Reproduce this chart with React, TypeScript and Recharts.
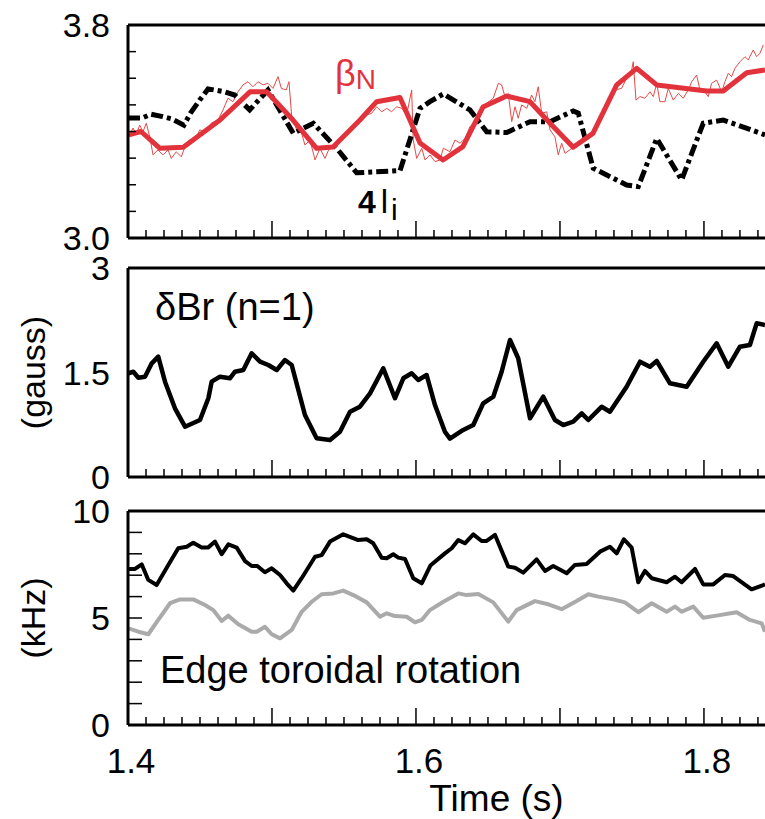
import React from "react";
import {
	LineChart,
	Line,
	XAxis,
	YAxis,
	ReferenceLine,
	ReferenceDot,
} from "recharts";

const FONT = '"Liberation Sans", Arial, Helvetica, sans-serif';
const RED = "#e2333d";
const RED_THIN = "#e44a48";
const GREY = "#aaaaaa";

// shared time axis (s)
const X_MIN = 1.4;
const X_MAX = 1.8424;
const X_MAJOR = [1.4, 1.5, 1.6, 1.7, 1.8];
const X_LABELS = [1.4, 1.6, 1.8];
const X_MINOR_STEP = 0.0125;

const xTicks: number[] = [];
for (let i = 0; X_MIN + i * X_MINOR_STEP <= X_MAX + 1e-9; i++) {
	xTicks.push(+(X_MIN + i * X_MINOR_STEP).toFixed(4));
}

// panel 1: beta_N and 4 l_i
const Y1_TICKS = [3.0, 3.1, 3.2, 3.3, 3.4, 3.5, 3.6, 3.7, 3.8];
const Y1_LABELS = [3.0, 3.8];

const BETA_RAW: [number, number][] = [
	[1.4012, 3.387], [1.4035, 3.413], [1.4058, 3.387], [1.4081, 3.424], [1.4104, 3.399],
	[1.4127, 3.431], [1.4151, 3.38], [1.4174, 3.312], [1.4208, 3.331], [1.4243, 3.312],
	[1.4278, 3.331], [1.4301, 3.299], [1.4335, 3.324], [1.437, 3.305], [1.4405, 3.356],
	[1.4428, 3.368], [1.4463, 3.362], [1.4498, 3.406], [1.4533, 3.399], [1.4578, 3.431],
	[1.4625, 3.443], [1.466, 3.481], [1.4694, 3.525], [1.4729, 3.512], [1.4764, 3.549],
	[1.4799, 3.575], [1.4833, 3.587], [1.4868, 3.568], [1.4903, 3.587], [1.4938, 3.575],
	[1.4972, 3.581], [1.5007, 3.562], [1.5042, 3.606], [1.5065, 3.562], [1.5099, 3.556],
	[1.5118, 3.587], [1.5137, 3.456], [1.5172, 3.406], [1.5206, 3.393], [1.5229, 3.349],
	[1.5264, 3.368], [1.5299, 3.293], [1.5333, 3.337], [1.5368, 3.299], [1.5403, 3.343],
	[1.5438, 3.349], [1.5472, 3.368], [1.5519, 3.399], [1.5553, 3.406], [1.5588, 3.437],
	[1.5623, 3.443], [1.5658, 3.462], [1.5692, 3.468], [1.5727, 3.493], [1.5762, 3.474],
	[1.5797, 3.487], [1.5831, 3.474], [1.5866, 3.493], [1.5901, 3.487], [1.5935, 3.462],
	[1.597, 3.556], [1.5981, 3.368], [1.6005, 3.299], [1.604, 3.337], [1.6063, 3.293],
	[1.6097, 3.312], [1.6132, 3.287], [1.6167, 3.293], [1.619, 3.337], [1.6236, 3.324],
	[1.6271, 3.368], [1.6306, 3.356], [1.634, 3.374], [1.6375, 3.418], [1.641, 3.437],
	[1.6444, 3.468], [1.6491, 3.506], [1.6537, 3.525], [1.6572, 3.581], [1.6595, 3.575],
	[1.6618, 3.531], [1.6641, 3.543], [1.6665, 3.437], [1.6688, 3.493], [1.671, 3.45],
	[1.6734, 3.5], [1.6769, 3.487], [1.6803, 3.537], [1.6826, 3.512], [1.6849, 3.568],
	[1.6873, 3.468], [1.6908, 3.474], [1.6931, 3.406], [1.6965, 3.38], [1.6988, 3.312],
	[1.7012, 3.356], [1.7035, 3.318], [1.7069, 3.331], [1.7104, 3.349], [1.7139, 3.356],
	[1.7185, 3.374], [1.7231, 3.387], [1.7266, 3.424], [1.7301, 3.46], [1.7347, 3.518],
	[1.7382, 3.556], [1.7428, 3.562], [1.7463, 3.6], [1.7498, 3.631], [1.7509, 3.662],
	[1.7528, 3.518], [1.7556, 3.531], [1.759, 3.525], [1.7625, 3.549], [1.7648, 3.531],
	[1.7672, 3.581], [1.7694, 3.512], [1.7729, 3.512], [1.7752, 3.562], [1.7787, 3.518],
	[1.7822, 3.543], [1.7856, 3.525], [1.7891, 3.556], [1.7915, 3.587], [1.7949, 3.612],
	[1.7972, 3.556], [1.8007, 3.549], [1.803, 3.531], [1.8053, 3.581], [1.8088, 3.593],
	[1.8123, 3.549], [1.8146, 3.587], [1.8169, 3.619], [1.8192, 3.606], [1.8215, 3.637],
	[1.825, 3.662], [1.8285, 3.681], [1.8308, 3.669], [1.8342, 3.706], [1.8366, 3.681],
	[1.8389, 3.694], [1.8412, 3.725],
];

const BETA_SMOOTH: [number, number][] = [
	[1.4005, 3.387], [1.409, 3.4], [1.4222, 3.337], [1.4384, 3.341], [1.4639, 3.443],
	[1.4847, 3.549], [1.4963, 3.549], [1.5146, 3.443], [1.531, 3.337], [1.5424, 3.342],
	[1.5611, 3.443], [1.5727, 3.512], [1.5889, 3.528], [1.6028, 3.357], [1.6188, 3.293],
	[1.6326, 3.343], [1.6465, 3.492], [1.663, 3.533], [1.6792, 3.512], [1.6931, 3.431],
	[1.7092, 3.341], [1.7229, 3.393], [1.7394, 3.575], [1.7533, 3.637], [1.7672, 3.575],
	[1.8019, 3.552], [1.8134, 3.552], [1.8297, 3.621], [1.8424, 3.631],
];

const LI4: [number, number][] = [
	[1.4, 3.451], [1.41, 3.451], [1.416, 3.465], [1.424, 3.456], [1.4305, 3.447],
	[1.4388, 3.424], [1.4434, 3.469], [1.4498, 3.518], [1.4556, 3.56], [1.4672, 3.549],
	[1.4741, 3.537], [1.4845, 3.481], [1.4972, 3.556], [1.5148, 3.393], [1.5287, 3.431],
	[1.5449, 3.337], [1.5588, 3.245], [1.5889, 3.253], [1.6028, 3.487], [1.6097, 3.512],
	[1.619, 3.541], [1.6375, 3.481], [1.6491, 3.399], [1.663, 3.396], [1.6792, 3.437],
	[1.6931, 3.437], [1.7092, 3.477], [1.7127, 3.469], [1.7231, 3.262], [1.7463, 3.199],
	[1.7544, 3.193], [1.7672, 3.374], [1.7845, 3.218], [1.7995, 3.431], [1.8134, 3.443],
	[1.8319, 3.408], [1.8424, 3.387],
];

// panel 2: delta Br (n=1), gauss
const Y2_TICKS = [0, 1.5, 3];
const Y2_LABELS = [0, 1.5, 3];

const DBR: [number, number][] = [
	[1.4002, 1.489], [1.4037, 1.511], [1.4072, 1.425], [1.4118, 1.44], [1.4165, 1.632],
	[1.421, 1.727], [1.4257, 1.368], [1.4326, 0.986], [1.4396, 0.722], [1.45, 0.818],
	[1.4558, 1.13], [1.4581, 1.368], [1.4639, 1.44], [1.4708, 1.417], [1.4743, 1.511],
	[1.4801, 1.536], [1.4859, 1.776], [1.4917, 1.655], [1.4974, 1.608], [1.5033, 1.536],
	[1.509, 1.679], [1.5137, 1.608], [1.5229, 0.89], [1.531, 0.556], [1.5403, 0.531],
	[1.5472, 0.65], [1.5542, 0.937], [1.5611, 1.009], [1.5681, 1.201], [1.5773, 1.56],
	[1.5854, 1.13], [1.5912, 1.417], [1.597, 1.489], [1.6016, 1.392], [1.6074, 1.464],
	[1.6132, 1.033], [1.6201, 0.65], [1.6236, 0.55], [1.6328, 0.675], [1.6398, 0.746],
	[1.6467, 1.058], [1.6537, 1.153], [1.6595, 1.511], [1.6653, 1.967], [1.671, 1.704],
	[1.6792, 0.843], [1.6884, 1.153], [1.6965, 0.818], [1.7023, 0.746], [1.7092, 0.794],
	[1.7151, 0.914], [1.7197, 0.818], [1.729, 1.009], [1.7347, 0.937], [1.7463, 1.296],
	[1.7556, 1.655], [1.7625, 1.583], [1.7672, 1.665], [1.7764, 1.345], [1.788, 1.296],
	[1.7995, 1.655], [1.8088, 1.919], [1.8169, 1.583], [1.825, 1.87], [1.8319, 1.895],
	[1.8366, 2.206], [1.8424, 2.182],
];

// panel 3: rotation, kHz
const Y3_TICKS = [0, 1, 2, 3, 4, 5, 6, 7, 8, 9, 10];
const Y3_LABELS = [0, 5, 10];

const ROT_BLACK: [number, number][] = [
	[1.4002, 7.29], [1.4049, 7.29], [1.4095, 7.51], [1.4141, 6.78], [1.4199, 6.54],
	[1.428, 7.48], [1.4349, 8.26], [1.4408, 8.33], [1.4453, 8.52], [1.4512, 8.29],
	[1.4558, 8.3], [1.4604, 8.57], [1.4651, 7.98], [1.4697, 8.44], [1.4755, 8.29],
	[1.4813, 7.66], [1.4859, 7.43], [1.4898, 7.43], [1.4951, 7.14], [1.4998, 7.32],
	[1.5056, 7.01], [1.5102, 6.62], [1.5148, 6.28], [1.5206, 6.86], [1.5299, 7.86],
	[1.5345, 7.94], [1.5403, 8.57], [1.5495, 8.91], [1.5599, 8.64], [1.5658, 8.68],
	[1.5703, 8.49], [1.5762, 7.82], [1.5797, 7.79], [1.5842, 7.98], [1.5877, 7.82],
	[1.5924, 7.76], [1.5981, 6.86], [1.604, 6.62], [1.61, 7.45], [1.6201, 8.02],
	[1.6248, 8.26], [1.6294, 8.64], [1.634, 8.49], [1.6398, 8.91], [1.6456, 8.6],
	[1.6491, 8.6], [1.6549, 8.88], [1.6641, 7.4], [1.6688, 7.35], [1.6745, 7.12],
	[1.6838, 7.74], [1.6896, 7.2], [1.6953, 7.43], [1.7047, 7.09], [1.7104, 7.48],
	[1.7185, 7.52], [1.7278, 8.1], [1.7347, 8.33], [1.7394, 8.02], [1.7444, 8.68],
	[1.7498, 8.29], [1.7544, 6.67], [1.759, 7.2], [1.7637, 6.86], [1.7741, 6.67],
	[1.7799, 6.93], [1.7845, 6.67], [1.7938, 7.29], [1.7995, 6.57], [1.8065, 6.57],
	[1.8146, 7.01], [1.8203, 6.96], [1.8331, 6.34], [1.8424, 6.57],
];

const ROT_GREY: [number, number][] = [
	[1.4002, 4.52], [1.4072, 4.36], [1.4141, 4.24], [1.421, 4.91], [1.4292, 5.69],
	[1.4361, 5.87], [1.4453, 5.87], [1.4535, 5.61], [1.4592, 5.37], [1.4651, 4.86],
	[1.4697, 5.11], [1.4766, 4.71], [1.4859, 4.36], [1.4894, 4.36], [1.4951, 4.59],
	[1.4998, 4.24], [1.5056, 4.05], [1.5137, 4.44], [1.5206, 5.29], [1.5276, 5.76],
	[1.5345, 6.11], [1.5426, 6.15], [1.5495, 6.28], [1.5565, 6.07], [1.5658, 5.73],
	[1.575, 5.06], [1.5797, 5.22], [1.5854, 5.09], [1.5935, 5.06], [1.5993, 4.8],
	[1.604, 4.91], [1.6097, 5.37], [1.619, 5.76], [1.6294, 6.15], [1.6352, 6.07],
	[1.6433, 6.12], [1.6537, 5.73], [1.6641, 4.83], [1.6699, 5.37], [1.6826, 5.79],
	[1.6919, 5.64], [1.7012, 5.41], [1.7116, 5.79], [1.7197, 6.11], [1.7266, 6.0],
	[1.737, 5.87], [1.7451, 5.73], [1.7544, 5.27], [1.7637, 5.69], [1.7741, 5.29],
	[1.7799, 5.53], [1.7845, 5.29], [1.7926, 5.53], [1.7995, 5.01], [1.8088, 5.11],
	[1.8227, 5.27], [1.8319, 4.91], [1.8401, 4.75], [1.8424, 4.36],
];

const toRows = (pts: [number, number][]) => pts.map(([t, v]) => ({ t, v }));
const near = (list: number[], v: number) =>
	list.some((m) => Math.abs(m - v) < 1e-6);

function XTick(props: any) {
	const { x, y, payload, showLabels } = props;
	const v = payload.value as number;
	const major = near(X_MAJOR, v);
	return (
		<g>
			<line
				x1={x}
				x2={x}
				y1={y}
				y2={y - (major ? 17 : 8)}
				stroke="#000"
				strokeWidth={1.5}
			/>
			{showLabels && near(X_LABELS, v) && (
				<text
					x={x + 3}
					y={y + 48}
					textAnchor="middle"
					fontSize={35}
					fontFamily={FONT}
					fill="#000"
				>
					{v.toFixed(1)}
				</text>
			)}
		</g>
	);
}

function YTick(props: any) {
	const { x, y, payload, len, labels, digits } = props;
	const v = payload.value as number;
	return (
		<g>
			{len > 0 && (
				<line x1={x} x2={x + len} y1={y} y2={y} stroke="#000" strokeWidth={1.5} />
			)}
			{near(labels, v) && (
				<text
					x={x - 18}
					y={y}
					dy="0.36em"
					textAnchor="end"
					fontSize={34}
					fontFamily={FONT}
					fill="#000"
				>
					{v.toFixed(digits(v))}
				</text>
			)}
		</g>
	);
}

const axisLine = { stroke: "#000", strokeWidth: 3 };

const betaLabel = (p: any) => {
	const { x, y } = p.viewBox;
	return (
		<text x={x} y={y} fill={RED} fontFamily={FONT}>
			<tspan fontSize={36}>β</tspan>
			<tspan fontSize={28} dy={3}>
				N
			</tspan>
		</text>
	);
};

const liLabel = (p: any) => {
	const { x, y } = p.viewBox;
	return (
		<text x={x} y={y} fill="#000" fontFamily={FONT}>
			<tspan fontSize={32} fontWeight="bold">
				4
			</tspan>
			<tspan fontSize={33} dx={5}>
				l
			</tspan>
			<tspan fontSize={30} dx={3} dy={7}>
				i
			</tspan>
		</text>
	);
};

const plainLabel = (text: string) => (p: any) => {
	const { x, y } = p.viewBox;
	return (
		<text x={x} y={y} fill="#000" fontFamily={FONT} fontSize={38}>
			{text}
		</text>
	);
};

const sideLabel = (value: string) => ({
	value,
	angle: -90,
	position: "insideLeft" as const,
	offset: 33,
	fontSize: 34,
	fill: "#000",
	fontFamily: FONT,
	style: { textAnchor: "middle" as const },
});

const xAxisProps = {
	type: "number" as const,
	dataKey: "t",
	domain: [X_MIN, X_MAX],
	ticks: xTicks,
	interval: 0 as const,
	tickSize: 0,
	tickMargin: 0,
	tickLine: false,
	axisLine,
	allowDataOverflow: true,
};

export default function App() {
	return (
		<div
			style={{
				position: "absolute",
				left: 0,
				top: 0,
				width: 765,
				height: 819,
				overflow: "hidden",
				background: "#fff",
				fontFamily: FONT,
			}}
		>
			<style>{".recharts-surface{overflow:visible}"}</style>

			{/* beta_N and 4 l_i */}
			<div style={{ position: "absolute", left: 0, top: 0 }}>
				<LineChart width={765} height={250} margin={{ top: 25, right: 0, bottom: 0, left: 0 }}>
					<XAxis {...xAxisProps} height={12} tick={<XTick />} />
					<YAxis
						type="number"
						domain={[3.0, 3.8]}
						ticks={Y1_TICKS}
						interval={0}
						width={128}
						tickSize={0}
						tickMargin={0}
						tickLine={false}
						axisLine={axisLine}
						allowDataOverflow
						tick={<YTick len={8} labels={Y1_LABELS} digits={() => 1} />}
					/>
					<ReferenceLine y={3.8} stroke="#000" strokeWidth={3} />
					<Line
						data={toRows(BETA_RAW)}
						dataKey="v"
						stroke={RED_THIN}
						strokeWidth={1}
						dot={false}
						isAnimationActive={false}
					/>
					<Line
						data={toRows(LI4)}
						dataKey="v"
						stroke="#000"
						strokeWidth={5}
						strokeDasharray="12 4 4 4"
						dot={false}
						isAnimationActive={false}
					/>
					<Line
						data={toRows(BETA_SMOOTH)}
						dataKey="v"
						stroke={RED}
						strokeWidth={5}
						strokeLinejoin="round"
						dot={false}
						isAnimationActive={false}
					/>
					<ReferenceDot x={1.5437} y={3.571} r={0} fill="none" stroke="none" label={betaLabel} />
					<ReferenceDot x={1.5597} y={3.094} r={0} fill="none" stroke="none" label={liLabel} />
				</LineChart>
			</div>

			{/* delta Br */}
			<div style={{ position: "absolute", left: 0, top: 250 }}>
				<LineChart width={765} height={239} margin={{ top: 18, right: 0, bottom: 0, left: 0 }}>
					<XAxis {...xAxisProps} height={12} tick={<XTick />} />
					<YAxis
						type="number"
						domain={[0, 3]}
						ticks={Y2_TICKS}
						interval={0}
						width={128}
						tickSize={0}
						tickMargin={0}
						tickLine={false}
						axisLine={axisLine}
						allowDataOverflow
						label={sideLabel("(gauss)")}
						tick={
							<YTick
								len={0}
								labels={Y2_LABELS}
								digits={(v: number) => (v === 1.5 ? 1 : 0)}
							/>
						}
					/>
					<ReferenceLine y={3} stroke="#000" strokeWidth={3} />
					<Line
						data={toRows(DBR)}
						dataKey="v"
						stroke="#000"
						strokeWidth={4.5}
						strokeLinejoin="round"
						dot={false}
						isAnimationActive={false}
					/>
					<ReferenceDot x={1.4188} y={2.254} r={0} fill="none" stroke="none" label={plainLabel("δBr (n=1)")} />
				</LineChart>
			</div>

			{/* rotation */}
			<div style={{ position: "absolute", left: 0, top: 489 }}>
				<LineChart width={765} height={330} margin={{ top: 22, right: 0, bottom: 0, left: 0 }}>
					<XAxis
						{...xAxisProps}
						height={94}
						tick={<XTick showLabels />}
						label={{
							value: "Time (s)",
							position: "insideBottom",
							offset: 8,
							dx: 50,
							fontSize: 37,
							fill: "#000",
							fontFamily: FONT,
						}}
					/>
					<YAxis
						type="number"
						domain={[0, 10]}
						ticks={Y3_TICKS}
						interval={0}
						width={128}
						tickSize={0}
						tickMargin={0}
						tickLine={false}
						axisLine={axisLine}
						allowDataOverflow
						label={sideLabel("(kHz)")}
						tick={<YTick len={14} labels={Y3_LABELS} digits={() => 0} />}
					/>
					<ReferenceLine y={10} stroke="#000" strokeWidth={3} />
					<Line
						data={toRows(ROT_GREY)}
						dataKey="v"
						stroke={GREY}
						strokeWidth={4}
						strokeLinejoin="round"
						dot={false}
						isAnimationActive={false}
					/>
					<Line
						data={toRows(ROT_BLACK)}
						dataKey="v"
						stroke="#000"
						strokeWidth={4}
						strokeLinejoin="round"
						dot={false}
						isAnimationActive={false}
					/>
					<ReferenceDot x={1.4222} y={1.963} r={0} fill="none" stroke="none" label={plainLabel("Edge toroidal rotation")} />
				</LineChart>
			</div>
		</div>
	);
}
